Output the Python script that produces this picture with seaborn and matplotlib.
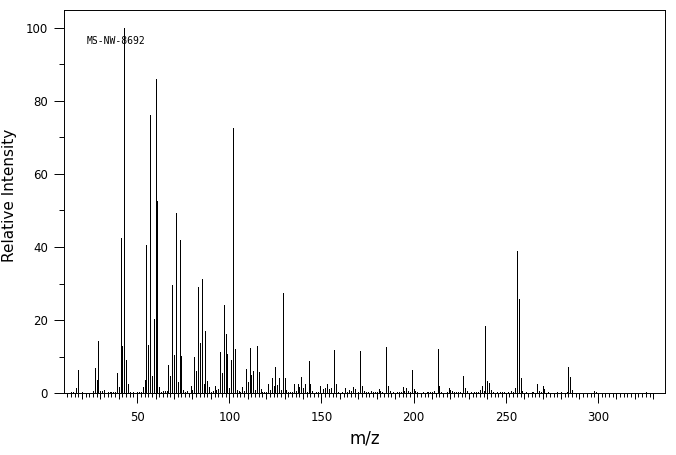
import matplotlib
matplotlib.use("Agg")
import matplotlib.pyplot as plt
import pandas as pd
import seaborn as sns
from matplotlib.ticker import FixedLocator

# peak list (m/z, relative intensity in %)
mz = [14, 15, 17, 18, 20, 26, 27, 28, 29, 30, 31, 32, 34, 35, 36, 37, 38,
      39, 40, 41, 42, 43, 44, 45, 46, 48, 50, 51, 52, 53, 54, 55, 56, 57,
      58, 59, 60, 61, 62, 63, 64, 65, 66, 67, 68, 69, 70, 71, 72, 73, 74,
      75, 76, 77, 79, 80, 81, 82, 83, 84, 85, 86, 87, 88, 89, 90, 91, 92,
      93, 94, 95, 96, 97, 98, 99, 100, 101, 102, 103, 104, 105, 106, 107,
      108, 109, 110, 111, 112, 113, 114, 115, 116, 117, 118, 119, 120, 121,
      122, 123, 124, 125, 126, 127, 128, 129, 130, 131, 132, 133, 134, 135,
      136, 137, 138, 139, 140, 141, 142, 143, 144, 145, 147, 148, 149, 151,
      152, 153, 154, 155, 157, 158, 159, 161, 163, 164, 165, 166, 167, 168,
      170, 171, 172, 173, 174, 175, 177, 178, 179, 180, 181, 182, 183, 185,
      186, 187, 189, 191, 192, 193, 194, 195, 196, 197, 198, 199, 200, 201,
      202, 205, 207, 208, 209, 210, 211, 213, 214, 215, 218, 219, 220, 221,
      222, 223, 224, 225, 227, 228, 229, 231, 233, 234, 235, 236, 237, 238,
      239, 240, 241, 242, 243, 245, 247, 248, 249, 251, 253, 254, 255, 256,
      257, 258, 259, 261, 264, 265, 267, 268, 269, 270, 271, 273, 278, 280,
      283, 284, 285, 286, 298, 299, 326]
intensity = [0.4, 0.4, 1.5, 6.4, 0.4, 0.7, 6.9, 3.6, 14.3, 0.7, 0.7, 0.9,
             0.4, 0.4, 0.4, 0.4, 0.4, 5.5, 1.7, 42.5, 12.9, 100.0, 9.1, 2.6,
             0.4, 0.4, 0.4, 0.4, 0.4, 1.7, 3.6, 40.6, 13.2, 76.1, 4.7, 20.2,
             86.0, 52.6, 1.7, 0.4, 0.5, 0.5, 0.5, 7.7, 4.7, 29.6, 10.5, 49.3,
             3.1, 41.9, 10.2, 0.8, 0.4, 0.5, 1.9, 0.8, 9.9, 6.1, 29.2, 13.8,
             31.2, 2.6, 17.0, 3.4, 1.7, 0.4, 0.5, 1.9, 0.8, 1.2, 11.2, 5.5,
             24.1, 16.1, 10.7, 1.4, 9.1, 72.6, 12.1, 0.9, 0.6, 0.4, 1.7, 0.6,
             6.6, 3.1, 12.4, 5.0, 6.1, 0.9, 12.9, 5.8, 1.2, 0.4, 0.4, 0.4,
             2.5, 0.9, 4.2, 2.0, 7.2, 2.3, 4.2, 0.9, 27.4, 4.2, 0.9, 0.4, 0.4,
             0.4, 2.5, 0.6, 2.5, 1.7, 4.5, 1.4, 2.5, 0.4, 8.8, 2.5, 0.6, 0.4,
             0.4, 2.0, 1.2, 1.4, 2.5, 1.2, 1.4, 11.8, 2.5, 0.4, 0.4, 1.4, 0.4,
             0.9, 0.6, 1.7, 1.2, 0.4, 11.6, 2.0, 0.6, 0.3, 0.3, 0.6, 0.4, 0.4,
             0.4, 1.2, 0.6, 0.4, 12.7, 2.0, 0.6, 0.3, 0.4, 0.4, 0.4, 1.7, 0.6,
             1.4, 0.6, 0.4, 6.4, 1.2, 0.6, 0.3, 0.4, 0.4, 0.4, 0.4, 0.4, 0.6,
             12.1, 2.0, 0.4, 0.4, 1.4, 0.9, 0.6, 0.4, 0.4, 0.4, 0.4, 4.7, 1.4,
             0.6, 0.4, 0.4, 0.4, 0.4, 0.9, 2.0, 0.6, 18.4, 3.4, 2.8, 0.9, 0.4,
             0.4, 0.4, 0.4, 0.4, 0.4, 0.6, 0.4, 1.4, 38.9, 25.8, 4.2, 0.6, 0.4,
             0.4, 0.4, 2.5, 0.6, 0.4, 2.0, 1.2, 0.3, 0.4, 0.3, 0.4, 7.2, 4.5,
             0.9, 0.6, 0.4, 0.4]

x_major = [50, 100, 150, 200, 250, 300]
x_mid = list(range(20, 331, 10))
x_minor = list(range(12, 331, 2))
y_major = [0, 20, 40, 60, 80, 100]
y_minor = [10, 30, 50, 70, 90]
spectrum_id = "MS-NW-8692"

df = pd.DataFrame({"mz": mz, "intensity": intensity})

sns.set_theme(style="ticks")
plt.rcParams["font.family"] = ["DejaVu Sans"]

fig = plt.figure(figsize=(6.76, 4.55), dpi=100)
ax = fig.add_axes([64 / 676, 1 - 393.3 / 455, 601 / 676, 383.3 / 455])

ax.vlines(df["mz"], 0, df["intensity"], colors="black", linewidth=0.6,
          antialiased=False)

ax.set_xlim(10.3, 336.4)
ax.set_ylim(0, 104.8)

ax.xaxis.set_major_locator(FixedLocator(x_major))
ax.xaxis.set_minor_locator(FixedLocator(x_minor))
ax.yaxis.set_major_locator(FixedLocator(y_major))
ax.yaxis.set_minor_locator(FixedLocator(y_minor))

ax.tick_params(axis="both", which="major", direction="out", length=7.2,
               width=0.7, color="black", labelsize=8.5, labelcolor="black")
ax.tick_params(axis="both", which="minor", direction="out", length=3.6,
               width=0.7, color="black")
ax.tick_params(axis="x", which="minor", length=2.9)
ax.tick_params(axis="x", which="major", pad=5.5)
ax.tick_params(axis="y", which="major", pad=4.5)

# medium ticks every 10 units
sec = ax.secondary_xaxis("bottom")
sec.xaxis.set_major_locator(FixedLocator(x_mid))
sec.tick_params(axis="x", length=4.3, width=0.7, color="black",
                labelbottom=False)
sec.spines["bottom"].set_visible(False)

for s in ax.spines.values():
    s.set_visible(True)
    s.set_linewidth(0.7)
    s.set_color("black")

ax.set_ylabel("Relative Intensity", fontsize=11, color="black")
ax.yaxis.set_label_coords(-0.079, 0.516)
ax.set_xlabel("m/z", fontsize=12, color="black")
ax.xaxis.set_label_coords(0.5, -0.095)

ax.text(0.038, 0.919, spectrum_id, transform=ax.transAxes, fontsize=7,
        family="DejaVu Sans Mono", va="center", ha="left", color="black")

fig.savefig("out.png", dpi=100, facecolor="white")
